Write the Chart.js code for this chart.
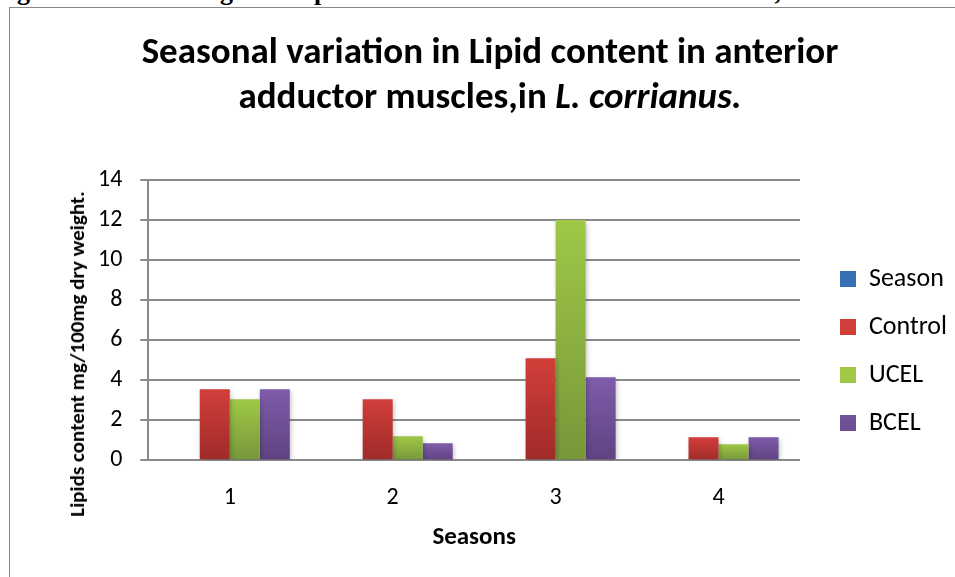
<!DOCTYPE html>
<html>
<head>
<meta charset="utf-8">
<script src="https://cdn.jsdelivr.net/npm/chart.js@4/dist/chart.umd.min.js"></script>
<style>
  html, body { margin: 0; padding: 0; background: #fff; overflow: hidden; }
  body { width: 955px; height: 577px; position: relative; }
  #caption { position: absolute; left: -6px; top: -21px; white-space: nowrap;
    font-family: "Liberation Serif", "DejaVu Serif", serif; font-weight: bold; font-size: 26px; line-height: 26px; color: #000; }
  #frame { position: absolute; left: 9px; top: 7px; width: 1000px; height: 700px;
    border-left: 1px solid #888; border-top: 1px solid #888; }
  #title { position: absolute; left: 25px; width: 930px; top: 28px; text-align: center;
    font-family: Carlito, Calibri, Lato, sans-serif; font-weight: bold; font-size: 37px; line-height: normal; color: #000; }
  #ytitle { position: absolute; left: 77px; top: 354px; transform: translate(-50%, -50%) rotate(-90deg);
    white-space: nowrap; font-family: Carlito, Calibri, Lato, sans-serif; font-weight: bold; font-size: 21px; color: #000; }
  #wrap { position: absolute; left: 0; top: 0; width: 955px; height: 577px; }
</style>
</head>
<body>
<div id="caption">Fig.1 Seasonal Changes in Lipids content in anterior adductor muscles, in <i>L. corrianus</i></div>
<div id="frame"></div>
<div id="wrap"><canvas id="c" width="955" height="577"></canvas></div>
<div id="title">Seasonal variation in Lipid content in anterior<br>adductor muscles,in <i>L. corrianus.</i></div>
<div id="ytitle">Lipids content mg/100mg dry weight.</div>
<script>
const categories = ['1', '2', '3', '4'];
const seriesNames = ['Season', 'Control', 'UCEL', 'BCEL'];
const seasonValues = [null, null, null, null];
const controlValues = [3.55, 3.05, 5.1, 1.15];
const ucelValues = [3.05, 1.2, 12.0, 0.8];
const bcelValues = [3.55, 0.85, 4.15, 1.15];
const yTicks = [0, 2, 4, 6, 8, 10, 12, 14];

const FONT = 'Carlito, Calibri, Lato, sans-serif';
const GRID = '#8a8a8a';

function barGradient(top, bottom, legendColor) {
  return (ctx) => {
    const chart = ctx.chart;
    if (ctx.type !== 'data' || !chart.chartArea || ctx.raw == null) return legendColor;
    const ys = chart.scales.y;
    const y0 = ys.getPixelForValue(ctx.raw), y1 = ys.getPixelForValue(0);
    if (!isFinite(y0) || Math.abs(y1 - y0) < 0.5) return legendColor;
    const g = chart.ctx.createLinearGradient(0, y0, 0, y1);
    g.addColorStop(0, top);
    g.addColorStop(1, bottom);
    return g;
  };
}

const shadowPlugin = {
  id: 'barShadow',
  beforeDatasetsDraw(chart) {
    const c = chart.ctx;
    c.save();
    c.shadowColor = 'rgba(0,0,0,0.28)';
    c.shadowBlur = 5;
    c.shadowOffsetX = 1.5;
    c.shadowOffsetY = 1.5;
  },
  afterDatasetsDraw(chart) { chart.ctx.restore(); }
};

const legendShift = {
  id: 'legendShift',
  afterLayout(chart) {
    if (chart.legend) { chart.legend.left += 18; chart.legend.right += 18; }
  }
};

new Chart(document.getElementById('c'), {
  type: 'bar',
  data: {
    labels: categories,
    datasets: [
      { label: seriesNames[0], data: seasonValues, backgroundColor: barGradient('#3d7cc6', '#2c5d9a', '#3670b4') },
      { label: seriesNames[1], data: controlValues, backgroundColor: barGradient('#d23e3a', '#9f2b29', '#be3533') },
      { label: seriesNames[2], data: ucelValues, backgroundColor: barGradient('#9fc847', '#77973a', '#8db241') },
      { label: seriesNames[3], data: bcelValues, backgroundColor: barGradient('#7f5caa', '#5e4381', '#704f97') }
    ]
  },
  options: {
    responsive: false,
    animation: false,
    devicePixelRatio: 1,
    datasets: { bar: { barPercentage: 1, categoryPercentage: 0.737, borderWidth: 0 } },
    layout: { padding: { top: 125, right: 16, bottom: 0, left: 80 } },
    plugins: {
      title: { display: true, text: '', fullSize: false, font: { size: 10, lineHeight: 1 }, padding: { top: 45, bottom: 0 } },
      tooltip: { enabled: false },
      legend: {
        position: 'right',
        align: 'center',
        labels: { boxWidth: 16, boxHeight: 16, padding: 22, color: '#000', font: { family: FONT, size: 26 } }
      }
    },
    scales: {
      x: {
        grid: { display: false, drawTicks: false },
        border: { display: true, color: GRID, width: 2 },
        ticks: { color: '#000', padding: 23, font: { family: FONT, size: 24 } },
        title: { display: true, text: 'Seasons', color: '#000', font: { family: FONT, size: 25, weight: 'bold' }, padding: { top: -12, bottom: 24 } }
      },
      y: {
        min: 0, max: 14,
        afterBuildTicks(axis) { axis.ticks = yTicks.map(v => ({ value: v })); },
        grid: { color: GRID, lineWidth: 2, tickLength: 8, drawTicks: true },
        border: { display: true, color: GRID, width: 2 },
        ticks: { color: '#000', padding: 18, font: { family: FONT, size: 24 } }
      }
    }
  },
  plugins: [shadowPlugin, legendShift]
});
</script>
</body>
</html>
